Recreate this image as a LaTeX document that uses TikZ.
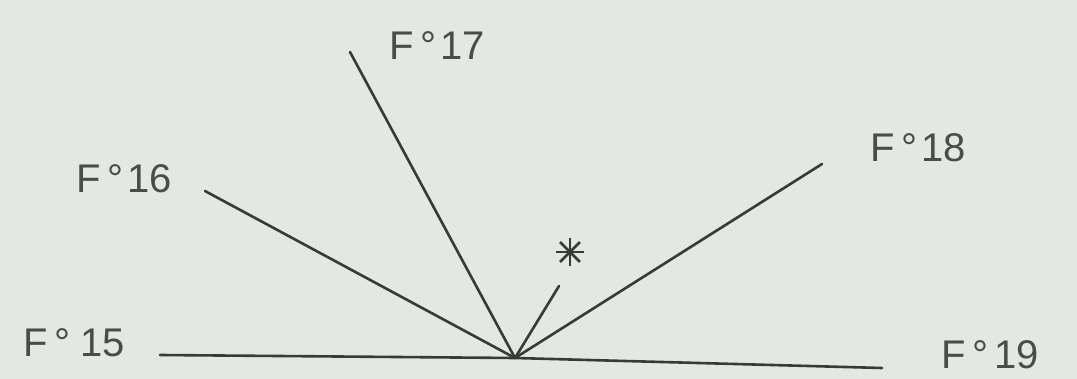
\documentclass[tikz,border=0pt]{standalone}
\usepackage{fontspec}
\setmainfont{Liberation Sans}
\usetikzlibrary{calc}
\definecolor{paper}{HTML}{E5E8DF}
\definecolor{ink}{HTML}{383A36}
\definecolor{pen}{HTML}{4A4C48}
\tikzset{
  ray/.style={draw=ink, line width=2.6pt, line cap=round},
  lab/.style={text=pen, font=\fontsize{40}{44}\selectfont, inner sep=0pt},
}
\begin{document}
\begin{tikzpicture}[x=1pt,y=-1pt]
\fill[paper] (0,0) rectangle (1077,379);
\useasboundingbox (0,0) rectangle (1077,379);
% junction and line ends
\coordinate (o) at (515,358);
\coordinate (e15) at (160,355);
\coordinate (e19) at (882,368);
\coordinate (e16) at (205,191);
\coordinate (e17) at (350,52);
\coordinate (e18) at (822,164);
\coordinate (eS) at (559,286);
% labels
\node[lab] (l15) at (74,343) {F\,°\hspace{10pt}15};
\node[lab] (l16) at (124,179) {F\,°\hspace{4pt}16};
\node[lab] (l17) at (437,46) {F\,°\hspace{4pt}17};
\node[lab] (l18) at (918,148) {F\,°\hspace{4pt}18};
\node[lab] (l19) at (990,355) {F\,°\hspace{6pt}19};
% star
\node[inner sep=0pt, minimum size=30pt] (star) at (570,252) {};
\foreach \a in {0,45,90,135}{
  \draw[draw=ink, line width=2.8pt] ($(star.center)+(\a:14)$) -- ($(star.center)+(\a+180:14)$);
}
% rays
\draw[ray] (e15) -- (o) -- (e19);
\draw[ray] (o) -- (e16);
\draw[ray] (o) -- (e17);
\draw[ray] (o) -- (e18);
\draw[ray] (o) -- (eS);
\end{tikzpicture}
\end{document}
